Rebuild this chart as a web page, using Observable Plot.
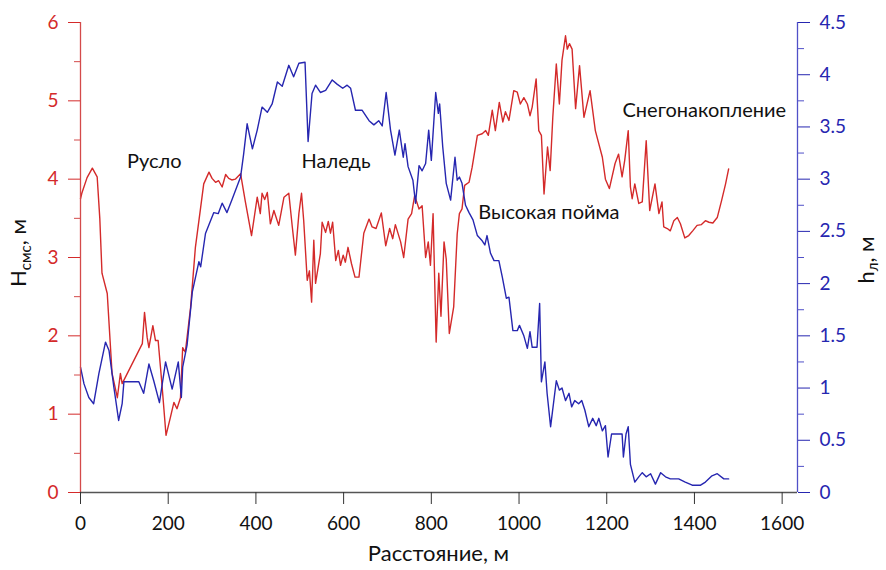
<!DOCTYPE html>
<html><head><meta charset="utf-8">
<script src="https://cdn.jsdelivr.net/npm/d3@7"></script>
<script src="https://cdn.jsdelivr.net/npm/@observablehq/plot@0.6"></script>
<style>body{margin:0;background:#fff}#chart{width:886px;height:570px}</style>
</head><body><div id="chart"></div>
<script>
// Red series: H_смс (left axis, m) vs distance (m)
const distRed = [0,3,15,27,38,44,49,61,72,84,91,95,141,146,152,156,165,171,177,185,195,205,213,220,228,233,239,251,262,274,281,293,300,308,315,323,331,338,345,353,365,376,390,403,410,414,420,426,433,441,452,464,475,483,490,498,504,509,517,522,527,532,536,547,551,559,565,570,575,582,588,593,599,604,610,618,626,635,646,658,665,674,686,696,705,712,718,730,737,747,755,762,772,779,787,793,798,804,811,817,822,829,834,841,851,859,864,870,876,886,893,905,916,924,930,939,946,955,963,969,977,988,996,1003,1011,1019,1025,1030,1039,1045,1051,1057,1065,1071,1077,1085,1092,1098,1106,1110,1115,1121,1129,1138,1148,1162,1174,1190,1197,1206,1219,1227,1235,1241,1249,1254,1258,1264,1273,1281,1290,1298,1310,1319,1326,1330,1338,1345,1353,1361,1368,1378,1387,1396,1406,1416,1425,1433,1442,1452,1462,1471,1478];
const hsmsValues = [3.75,3.82,4.02,4.14,4.03,3.5,2.80,2.54,1.52,1.21,1.52,1.39,1.90,2.30,1.98,1.85,2.13,1.94,1.94,1.43,0.73,0.96,1.15,1.07,1.21,1.85,1.79,2.36,3.13,3.64,3.94,4.09,4.01,3.96,3.98,3.90,4.06,4.01,3.99,4.00,4.07,3.71,3.28,3.77,3.56,3.82,3.74,3.83,3.43,3.60,3.41,3.77,3.82,3.39,3.03,3.56,3.82,3.47,2.71,2.83,2.43,3.22,2.67,3.05,3.45,3.32,3.46,3.31,3.45,2.96,3.09,2.90,3.03,2.94,3.13,2.92,2.75,2.75,3.31,3.49,3.39,3.37,3.57,3.15,3.37,3.24,3.42,3.20,3.00,3.49,3.56,3.79,3.62,3.66,3.00,3.20,2.90,3.56,1.92,2.80,2.25,3.20,2.98,2.03,2.37,3.30,3.56,3.62,3.92,3.96,4.15,4.56,4.58,4.62,4.56,4.88,4.62,4.98,4.73,4.86,4.75,5.13,5.11,4.96,5.04,4.96,4.81,4.92,5.28,4.62,4.56,3.81,4.41,4.11,4.79,5.47,4.96,5.52,5.83,5.66,5.73,5.66,4.90,5.45,4.79,5.13,4.62,4.28,4.00,3.88,4.20,4.32,4.03,4.24,4.62,3.90,3.75,3.94,3.69,3.71,4.49,3.60,3.94,3.56,3.71,3.39,3.37,3.34,3.47,3.51,3.43,3.25,3.28,3.34,3.41,3.42,3.47,3.45,3.44,3.51,3.73,3.94,4.13];

// Blue series: h_л (right axis, m) vs distance (m)
const distBlue = [0,8,19,30,42,57,65,76,87,95,99,133,144,156,167,180,194,209,223,230,233,243,255,270,274,285,304,314,323,334,346,365,372,380,392,403,414,426,437,449,460,475,486,498,512,519,528,536,547,559,574,585,598,608,616,627,642,658,669,680,688,697,707,717,727,736,740,747,758,764,772,779,787,794,800,810,816,819,826,834,844,854,859,864,870,878,886,895,905,916,922,927,935,943,954,962,971,977,986,996,1001,1011,1019,1025,1030,1041,1047,1051,1059,1064,1072,1085,1092,1098,1106,1114,1120,1127,1136,1143,1150,1159,1168,1176,1182,1190,1197,1203,1211,1235,1238,1244,1249,1254,1264,1273,1281,1290,1300,1311,1323,1334,1345,1364,1379,1395,1414,1425,1440,1452,1467,1478];
const hlValues = [1.20,1.04,0.91,0.85,1.14,1.44,1.36,1.01,0.69,0.85,1.06,1.06,0.95,1.23,1.07,0.86,1.25,0.99,1.25,0.91,1.20,1.41,1.92,2.21,2.16,2.48,2.68,2.67,2.77,2.68,2.81,3.02,3.24,3.53,3.29,3.47,3.69,3.64,3.72,3.93,3.89,4.09,3.98,4.11,4.12,3.36,3.82,3.90,3.83,3.85,3.95,3.91,3.87,3.90,3.87,3.66,3.66,3.56,3.52,3.56,3.51,3.83,3.47,3.23,3.47,3.21,3.34,3.12,2.99,2.77,3.13,3.08,3.15,3.47,3.18,3.83,3.63,3.72,3.31,2.96,2.80,3.21,2.99,3.02,2.96,2.75,2.68,2.61,2.46,2.41,2.37,2.46,2.29,2.22,2.22,2.06,1.86,1.87,1.55,1.55,1.60,1.50,1.38,1.54,1.39,1.39,1.81,1.06,1.25,0.95,0.63,1.07,0.98,1.00,0.88,0.95,0.82,0.88,0.85,0.88,0.79,0.63,0.71,0.64,0.71,0.59,0.64,0.34,0.56,0.56,0.34,0.56,0.63,0.27,0.10,0.15,0.19,0.15,0.18,0.08,0.19,0.15,0.13,0.13,0.10,0.07,0.07,0.10,0.16,0.18,0.13,0.13];

const xTicks = [0,200,400,600,800,1000,1200,1400,1600];
const leftTicks = [0,1,2,3,4,5,6];
const rightTicks = [0,0.5,1,1.5,2,2.5,3,3.5,4,4.5];
const zoneLabels = ["Русло","Наледь","Высокая пойма","Снегонакопление"];
const xTitle = "Расстояние, м";

const RED = "#d42a2a", BLUE = "#2626b0";
const RED_AX = "#d44a4a", BLUE_AX = "#5050c8";
const k = 6 / 4.5; // right-axis units -> left-axis units
const xMax = 1635;

const labelAnchors = [[106,4.23],[504,4.23],[907,3.57],[1236,4.87]];

const chart = Plot.plot({
  width: 886, height: 570,
  marginTop: 22, marginBottom: 78, marginLeft: 80, marginRight: 89,
  style: {fontFamily: "Lato, 'Open Sans', sans-serif", fontSize: "19px", background: "#fff"},
  x: {domain: [0, xMax]},
  y: {domain: [0, 6]},
  marks: [
    Plot.line(hsmsValues, {x: distRed, y: hsmsValues, stroke: RED, strokeWidth: 1.4}),
    Plot.line(hlValues, {x: distBlue, y: d => d * k, stroke: BLUE, strokeWidth: 1.4}),
    Plot.text(zoneLabels, {x: (d, i) => labelAnchors[i][0], y: (d, i) => labelAnchors[i][1], text: d => d, textAnchor: "start", fill: "#111", fontSize: 20}),
    // left axis (H)
    Plot.ruleX([0], {stroke: RED_AX, strokeWidth: 1.3}),
    Plot.axisY({ticks: leftTicks, tickFormat: d => String(d), tickSize: 12, tickPadding: 10, color: RED, label: null, fontSize: 19}),
    Plot.axisY({ticks: leftTicks.slice(0, -1).map(v => v + 0.5), tickSize: 6, text: null, color: RED_AX, label: null}),
    // right axis (h)
    Plot.ruleX([xMax], {stroke: BLUE_AX, strokeWidth: 1.3}),
    Plot.axisY({anchor: "right", ticks: rightTicks.map(v => v * k), tickFormat: d => String(+(d / k).toFixed(2)), tickSize: 12, tickPadding: 10, color: BLUE, label: null, fontSize: 19}),
    Plot.axisY({anchor: "right", ticks: rightTicks.slice(0, -1).map(v => (v + 0.25) * k), tickSize: 6, text: null, color: BLUE_AX, label: null}),
    // bottom axis
    Plot.ruleY([0], {stroke: "#555", strokeWidth: 1.3}),
    Plot.axisX({ticks: xTicks, tickFormat: d => String(d), tickSize: 12, tickPadding: 12, color: "#333", fill: "#111", label: null, fontSize: 19})
  ]
});
document.getElementById("chart").appendChild(chart);

const svg = d3.select(chart.tagName.toLowerCase() === "svg" ? chart : chart.querySelector("svg"));
// x title
svg.append("text").attr("x", 438.5).attr("y", 561).attr("text-anchor", "middle")
  .attr("font-size", 22).attr("fill", "#111").text(xTitle);
// left title H_смс, м
const lt = svg.append("text").attr("transform", "translate(26,253) rotate(-90)")
  .attr("text-anchor", "middle").attr("font-size", 22).attr("fill", "#111");
lt.append("tspan").text("H");
lt.append("tspan").attr("font-size", 15).attr("dy", 5).text("смс");
lt.append("tspan").attr("dy", -5).text(", м");
// right title h_л, м
const rt = svg.append("text").attr("transform", "translate(874,260) rotate(-90)")
  .attr("text-anchor", "middle").attr("font-size", 22).attr("fill", "#111");
rt.append("tspan").text("h");
rt.append("tspan").attr("font-size", 15).attr("dy", 4).text("л");
rt.append("tspan").attr("dy", -4).text(", м");
</script>
</body></html>
